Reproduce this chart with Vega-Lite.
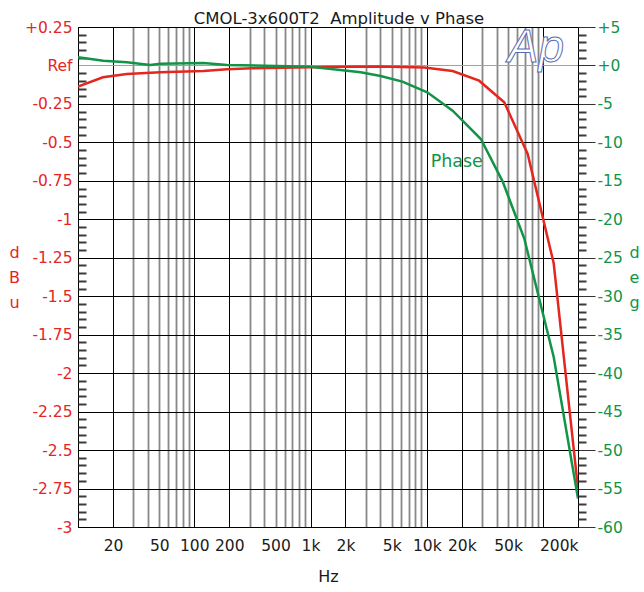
{
  "$schema": "https://vega.github.io/schema/vega-lite/v6.json",
  "width": 500,
  "height": 500,
  "autosize": "none",
  "padding": {"left": 78, "top": 27, "right": 66, "bottom": 65},
  "title": {"text": "CMOL-3x600T2\u00a0 Amplitude v Phase", "font": "DejaVu Sans", "fontSize": 16.5, "fontWeight": "normal", "color": "#1a1a1a", "anchor": "middle", "baseline": "alphabetic", "offset": -20, "dx": 11},
  "config": {"view": {"stroke": "#000000", "strokeWidth": 1}, "font": "DejaVu Sans"},
  "datasets": {
    "amp": [
      {"f": 10, "dB": -0.138},
      {"f": 16.4, "dB": -0.077},
      {"f": 26.3, "dB": -0.055},
      {"f": 51, "dB": -0.044},
      {"f": 120, "dB": -0.036},
      {"f": 191, "dB": -0.025},
      {"f": 314, "dB": -0.018},
      {"f": 1000, "dB": -0.012},
      {"f": 2000, "dB": -0.008},
      {"f": 4000, "dB": -0.006},
      {"f": 9500, "dB": -0.013},
      {"f": 16700, "dB": -0.036},
      {"f": 28200, "dB": -0.099},
      {"f": 46400, "dB": -0.239},
      {"f": 73800, "dB": -0.575},
      {"f": 123600, "dB": -1.286},
      {"f": 200000, "dB": -2.75}
    ],
    "phase": [
      {"f": 10, "deg": 1.07},
      {"f": 16.5, "deg": 0.62},
      {"f": 26.3, "deg": 0.42},
      {"f": 41.8, "deg": 0.07},
      {"f": 51, "deg": 0.23},
      {"f": 120, "deg": 0.33},
      {"f": 191, "deg": 0.07},
      {"f": 1000, "deg": -0.16},
      {"f": 2700, "deg": -0.88},
      {"f": 4010, "deg": -1.37},
      {"f": 6170, "deg": -2.1},
      {"f": 10100, "deg": -3.48},
      {"f": 16700, "deg": -5.88},
      {"f": 29200, "deg": -9.56},
      {"f": 45000, "deg": -15.1},
      {"f": 69000, "deg": -22.5},
      {"f": 123600, "deg": -37.9},
      {"f": 200000, "deg": -56.3}
    ],
    "notes": [
      {"f": 10800, "deg": -12.5, "label": "Phase"},
      {"f": 87000, "deg": 0.45, "label": "Ap"}
    ]
  },
  "layer": [
    {
      "data": {"name": "amp"},
      "mark": {"type": "line", "color": "#e5261f", "strokeWidth": 2.5, "clip": true},
      "encoding": {
        "x": {
          "field": "f", "type": "quantitative",
          "scale": {"type": "log", "domain": [10, 200000], "nice": false},
          "axis": {
            "title": "Hz",
            "tickCount": 1000,
            "values": [20,30,40,50,60,70,80,90,100,200,300,400,500,600,700,800,900,1000,2000,3000,4000,5000,6000,7000,8000,9000,10000,20000,30000,40000,50000,60000,70000,80000,90000,100000,200000],
            "grid": true,
            "gridColor": {"condition": {"test": "datum.value == 20 || datum.value == 100 || datum.value == 200 || datum.value == 1000 || datum.value == 2000 || datum.value == 10000 || datum.value == 20000 || datum.value == 100000 || datum.value == 200000", "value": "#000000"}, "value": "#888888"},
            "gridWidth": {"condition": {"test": "datum.value == 20 || datum.value == 100 || datum.value == 200 || datum.value == 1000 || datum.value == 2000 || datum.value == 10000 || datum.value == 20000 || datum.value == 100000 || datum.value == 200000", "value": 1}, "value": 1.8},
            "ticks": false,
            "domainColor": "#000000",
            "labelExpr": "(datum.value == 20 || datum.value == 50 || datum.value == 100 || datum.value == 200 || datum.value == 500 || datum.value == 1000 || datum.value == 2000 || datum.value == 5000 || datum.value == 10000 || datum.value == 20000 || datum.value == 50000 || datum.value == 200000) ? (datum.value >= 1000 ? (datum.value / 1000) + 'k' : '' + datum.value) : ''",
            "labelAlign": {"condition": {"test": "datum.value == 200000", "value": "right"}, "value": "center"},
            "labelFont": "DejaVu Sans",
            "labelFontSize": 15.5,
            "labelColor": "#1a1a1a",
            "labelPadding": 11,
            "labelOverlap": false,
            "labelFlush": false,
            "titleFont": "DejaVu Sans",
            "titleFontSize": 16,
            "titleFontWeight": "normal",
            "titleColor": "#1a1a1a",
            "titlePadding": 15
          }
        },
        "y": {
          "field": "dB", "type": "quantitative",
          "scale": {"domain": [-3, 0.25], "nice": false, "zero": false},
          "axis": {
            "orient": "left",
            "title": ["d", "B", "u"],
            "tickCount": 1000,
            "values": [-3,-2.75,-2.5,-2.25,-2,-1.75,-1.5,-1.25,-1,-0.75,-0.5,-0.25,0,0.25],
            "grid": true,
            "gridColor": {"condition": {"test": "datum.value == 0", "value": "#98a2aa"}, "value": "#000000"},
            "gridWidth": 1,
            "ticks": false,
            "domainColor": "#000000",
            "labelExpr": "datum.value == 0 ? 'Ref' : (datum.value > 0 ? '+' + datum.value : '' + datum.value)",
            "labelColor": "#e5261f",
            "labelFont": "DejaVu Sans",
            "labelFontSize": 15.5,
            "labelPadding": 6,
            "labelOverlap": false,
            "labelFlush": false,
            "titleAngle": 0,
            "titleColor": "#e5261f",
            "titleFont": "DejaVu Sans",
            "titleFontSize": 16,
            "titleFontWeight": "normal",
            "titleX": -64,
            "titleY": 225,
            "titleAlign": "center",
            "titleBaseline": "middle",
            "titleLineHeight": 25
          }
        }
      }
    },
    {
      "layer": [
        {
          "data": {"name": "phase"},
          "mark": {"type": "line", "color": "#129447", "strokeWidth": 2.5, "clip": true},
          "encoding": {
            "x": {"field": "f", "type": "quantitative", "scale": {"type": "log", "domain": [10, 200000], "nice": false}},
            "y": {
              "field": "deg", "type": "quantitative",
              "scale": {"domain": [-60, 5], "nice": false, "zero": false},
              "axis": {
                "orient": "right",
                "title": ["d", "e", "g"],
                "tickCount": 1000,
                "values": [-60,-55,-50,-45,-40,-35,-30,-25,-20,-15,-10,-5,0,5],
                "grid": false,
                "ticks": true,
                "tickSize": 17,
                "tickColor": "#333333",
                "domainColor": "#000000",
                "labelExpr": "datum.value > 0 ? '+' + datum.value : (datum.value == 0 ? '+0' : '' + datum.value)",
                "labelColor": "#129447",
                "labelFont": "DejaVu Sans",
                "labelFontSize": 15.5,
                "labelPadding": 2,
                "labelOverlap": false,
                "labelFlush": false,
                "titleAngle": 0,
                "titleColor": "#129447",
                "titleFont": "DejaVu Sans",
                "titleFontSize": 16,
                "titleFontWeight": "normal",
                "titleX": 56,
                "titleY": 225,
                "titleAlign": "center",
                "titleBaseline": "middle",
                "titleLineHeight": 25
              }
            }
          }
        },
        {
          "data": {"name": "notes"},
          "transform": [{"filter": "datum.label == 'Phase'"}],
          "mark": {"type": "text", "color": "#129447", "fontSize": 17.5, "align": "left", "baseline": "middle", "font": "DejaVu Sans"},
          "encoding": {
            "x": {"field": "f", "type": "quantitative"},
            "y": {"field": "deg", "type": "quantitative"},
            "text": {"field": "label"}
          }
        },
        {
          "data": {"name": "notes"},
          "transform": [{"filter": "datum.label == 'Ap'"}],
          "mark": {"type": "text", "fill": "#ffffff", "stroke": "#5a6cb0", "strokeWidth": 1, "fontSize": 46, "fontStyle": "italic", "align": "center", "baseline": "alphabetic", "font": "Liberation Sans"},
          "encoding": {
            "x": {"field": "f", "type": "quantitative"},
            "y": {"field": "deg", "type": "quantitative"},
            "text": {"field": "label"}
          }
        }
      ]
    },
    {
      "data": {"name": "amp"},
      "mark": {"type": "line", "opacity": 0},
      "encoding": {
        "x": {"field": "f", "type": "quantitative", "scale": {"type": "log", "domain": [10, 200000], "nice": false}},
        "y": {
          "field": "dB", "type": "quantitative",
          "scale": {"domain": [-3, 0.25], "nice": false, "zero": false},
          "axis": {
            "orient": "left",
            "title": null,
            "tickCount": 1000,
            "values": [-2.95,-2.9,-2.85,-2.8,-2.7,-2.65,-2.6,-2.55,-2.45,-2.4,-2.35,-2.3,-2.2,-2.15,-2.1,-2.05,-1.95,-1.9,-1.85,-1.8,-1.7,-1.65,-1.6,-1.55,-1.45,-1.4,-1.35,-1.3,-1.2,-1.15,-1.1,-1.05,-0.95,-0.9,-0.85,-0.8,-0.7,-0.65,-0.6,-0.55,-0.45,-0.4,-0.35,-0.3,-0.2,-0.15,-0.1,-0.05,0.05,0.1,0.15,0.2],
            "grid": false,
            "domain": false,
            "labels": false,
            "ticks": true,
            "tickSize": -8,
            "tickWidth": 2,
            "tickColor": "#3a3a3a"
          }
        }
      }
    },
    {
      "data": {"name": "phase"},
      "mark": {"type": "line", "opacity": 0},
      "encoding": {
        "x": {"field": "f", "type": "quantitative", "scale": {"type": "log", "domain": [10, 200000], "nice": false}},
        "y": {
          "field": "deg", "type": "quantitative",
          "scale": {"domain": [-60, 5], "nice": false, "zero": false},
          "axis": {
            "orient": "right",
            "title": null,
            "tickCount": 1000,
            "values": [-59,-58,-57,-56,-54,-53,-52,-51,-49,-48,-47,-46,-44,-43,-42,-41,-39,-38,-37,-36,-34,-33,-32,-31,-29,-28,-27,-26,-24,-23,-22,-21,-19,-18,-17,-16,-14,-13,-12,-11,-9,-8,-7,-6,-4,-3,-2,-1,1,2,3,4],
            "grid": false,
            "domain": false,
            "labels": false,
            "ticks": true,
            "tickSize": 8,
            "tickWidth": 2,
            "tickColor": "#3a3a3a"
          }
        }
      }
    }
  ],
  "resolve": {"scale": {"y": "independent"}}
}
